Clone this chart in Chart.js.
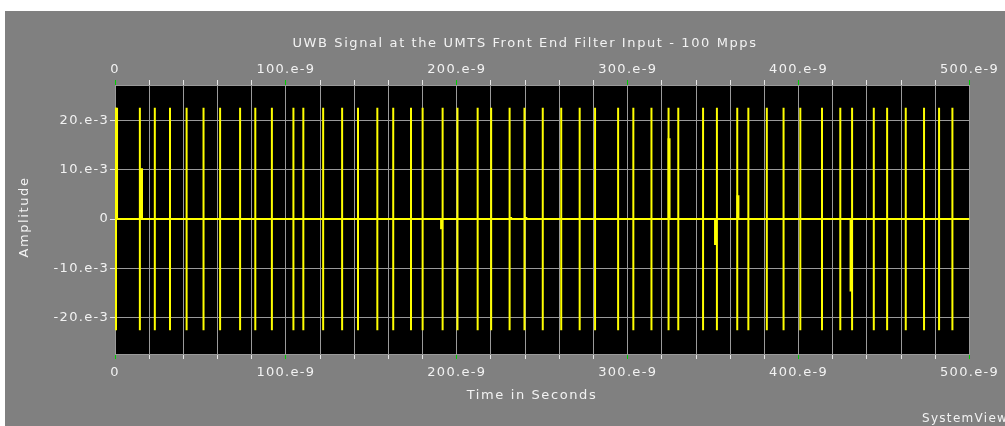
<!DOCTYPE html>
<html><head><meta charset="utf-8">
<script src="https://cdn.jsdelivr.net/npm/chart.js@4/dist/chart.umd.min.js"></script>
<style>
html,body{margin:0;padding:0;background:#fff;overflow:hidden;}
#wrap{position:absolute;left:5px;top:11px;width:1000px;height:415px;background:#808080;}
canvas{display:block;}
</style></head><body>
<div id="wrap"><canvas id="c" width="1000" height="415"></canvas></div>
<script>
// ---- text ----
const chartTitle = 'UWB Signal at the UMTS Front End Filter Input - 100 Mpps';
const xAxisTitle = 'Time in Seconds';
const yAxisTitle = 'Amplitude';
const footerText = 'SystemView';

// ---- data (time in ns, amplitude in volts) ----
const pulseTimesNs = [0.6, 14.55, 23.3, 32.2, 41.9, 51.8, 61.5, 73.2, 82.1, 91.8,
  104.4, 110.2, 121.8, 132.9, 142.2, 153.5, 162.8, 173.2, 180.0, 191.7,
  200.4, 212.2, 220.1, 230.9, 239.6, 250.3, 261.1, 271.9, 280.9, 294.4,
  303.3, 313.9, 323.9, 329.6, 344.1, 352.2, 364.1, 370.6, 381.4, 391.2,
  401.0, 413.7, 424.4, 431.3, 444.0, 451.8, 462.7, 473.4, 482.2, 490.0];
const pulsePeak = 22.6e-3;
const spikeTimesNs = [0.9, 15.5, 191.1, 231.5, 240.4, 324.2, 351.4, 364.5, 430.7];
const spikeValues = [22.6e-3, 10.3e-3, -2.1e-3, 0.4e-3, 0.4e-3, 16.4e-3, -5.3e-3, 4.8e-3, -14.7e-3];

// ---- axes ----
const xMinNs = 0, xMaxNs = 500;
const yMin = -27.4e-3, yMax = 27.2e-3;
const xTickNs = [0,20,40,60,80,100,120,140,160,180,200,220,240,260,280,300,320,340,360,380,400,420,440,460,480,500];
const xTickLabels = ['0','','','','','100.e-9','','','','','200.e-9','','','','','300.e-9','','','','','400.e-9','','','','','500.e-9'];
const yTickValues = [-20e-3, -10e-3, 0, 10e-3, 20e-3];
const yTickLabels = ['-20.e-3', '-10.e-3', '0', '10.e-3', '20.e-3'];

// ---- build series ----
const signal = [{x: xMinNs * 1e-9, y: 0}];
pulseTimesNs.forEach(t => {
  const x = t * 1e-9;
  signal.push({x, y: 0}, {x, y: pulsePeak}, {x, y: -pulsePeak}, {x, y: 0});
});
signal.push({x: xMaxNs * 1e-9, y: 0});
const spikes = [];
spikeTimesNs.forEach((t, i) => {
  const x = t * 1e-9;
  spikes.push({x, y: 0}, {x, y: spikeValues[i]}, {x, y: null});
});

const TXT = '#f2f2f2';
const GRID = '#9a9a9a';
const TICK = '#e8e8e8';
const MAJOR = '#00d000';
const FONT = 'DejaVu Sans';
const TL = 5;
const isMajorNs = ns => Math.round(ns) % 100 === 0;

const crisp = v => Math.round(v - 0.5) + 0.5;

const decor = {
  id: 'decor',
  beforeLayout(chart) { chart.ctx.letterSpacing = '1.3px'; },
  beforeDraw(chart) {
    const {ctx, chartArea: a} = chart;
    ctx.letterSpacing = '1.3px';
    ctx.save();
    ctx.fillStyle = '#000';
    ctx.fillRect(a.left, a.top, a.right - a.left, a.bottom - a.top);
    ctx.restore();
  },
  beforeDatasetsDraw(chart) {
    const {ctx, chartArea: a, scales} = chart;
    const sx = scales.x, sy = scales.y;
    ctx.save();
    ctx.lineWidth = 1;
    // vertical grid lines + tick marks (top and bottom)
    xTickNs.forEach(ns => {
      const px = crisp(sx.getPixelForValue(ns * 1e-9));
      ctx.strokeStyle = GRID;
      ctx.beginPath(); ctx.moveTo(px, a.top); ctx.lineTo(px, a.bottom); ctx.stroke();
      ctx.strokeStyle = isMajorNs(ns) ? MAJOR : TICK;
      ctx.beginPath(); ctx.moveTo(px, a.top - TL); ctx.lineTo(px, a.top); ctx.stroke();
      ctx.beginPath(); ctx.moveTo(px, a.bottom); ctx.lineTo(px, a.bottom + TL); ctx.stroke();
    });
    // horizontal grid lines + tick marks (left)
    yTickValues.forEach(v => {
      const py = crisp(sy.getPixelForValue(v));
      ctx.strokeStyle = GRID;
      ctx.beginPath(); ctx.moveTo(a.left, py); ctx.lineTo(a.right, py); ctx.stroke();
      ctx.strokeStyle = TICK;
      ctx.beginPath(); ctx.moveTo(a.left - TL, py); ctx.lineTo(a.left, py); ctx.stroke();
    });
    // frame
    ctx.strokeStyle = GRID;
    ctx.strokeRect(crisp(a.left), crisp(a.top), Math.round(a.right - a.left), Math.round(a.bottom - a.top));
    ctx.restore();
  },
  afterDraw(chart) {
    const ctx = chart.ctx;
    ctx.save();
    ctx.fillStyle = TXT;
    ctx.textBaseline = 'middle';
    ctx.textAlign = 'center';
    ctx.font = '13px "' + FONT + '"';
    ctx.letterSpacing = '1.6px';
    ctx.fillText(chartTitle, 520, 33);
    ctx.fillText(xAxisTitle, 527, 385);
    ctx.save();
    ctx.translate(20, 206);
    ctx.rotate(-Math.PI / 2);
    ctx.fillText(yAxisTitle, 0, 0);
    ctx.restore();
    ctx.textAlign = 'left';
    ctx.font = '12px "' + FONT + '"';
    ctx.letterSpacing = '1.3px';
    ctx.fillText(footerText, 917, 408);
    ctx.restore();
  }
};

const xTicks = s => { s.ticks = xTickNs.map(v => ({value: v * 1e-9})); };
const xTickCb = (v, i) => xTickLabels[i];
const hidden = 'rgba(0,0,0,0)';

new Chart(document.getElementById('c'), {
  type: 'line',
  data: {
    datasets: [
      {data: signal, borderColor: '#ffff00', borderWidth: 2, pointRadius: 0, tension: 0, fill: false},
      {data: spikes, borderColor: '#ffff00', borderWidth: 3, pointRadius: 0, tension: 0, fill: false, spanGaps: false}
    ]
  },
  options: {
    responsive: false,
    animation: false,
    events: [],
    layout: {padding: {left: 0, right: 31, top: 44, bottom: 42}},
    plugins: {legend: {display: false}, tooltip: {enabled: false}, title: {display: false}},
    scales: {
      x: {
        type: 'linear', position: 'bottom', min: xMinNs * 1e-9, max: xMaxNs * 1e-9,
        afterBuildTicks: xTicks,
        afterFit: s => { s.height = 30; },
        ticks: {callback: xTickCb, autoSkip: false, maxRotation: 0, minRotation: 0, maxTicksLimit: 100,
          color: TXT, font: {family: FONT, size: 13}, padding: 6},
        grid: {drawOnChartArea: false, drawTicks: true, tickLength: TL, tickColor: hidden, color: hidden},
        border: {display: false}
      },
      x2: {
        type: 'linear', position: 'top', min: xMinNs * 1e-9, max: xMaxNs * 1e-9,
        afterBuildTicks: xTicks,
        afterFit: s => { s.height = 30; },
        ticks: {callback: xTickCb, autoSkip: false, maxRotation: 0, minRotation: 0, maxTicksLimit: 100,
          color: TXT, font: {family: FONT, size: 13}, padding: 3},
        grid: {drawOnChartArea: false, drawTicks: true, tickLength: TL, tickColor: hidden, color: hidden},
        border: {display: false}
      },
      y: {
        type: 'linear', position: 'left', min: yMin, max: yMax,
        afterBuildTicks: s => { s.ticks = yTickValues.map(v => ({value: v})); },
        afterFit: s => { s.width = 110; },
        ticks: {callback: (v, i) => yTickLabels[i], autoSkip: false, maxTicksLimit: 100,
          color: TXT, font: {family: FONT, size: 13}, padding: 1},
        grid: {drawOnChartArea: false, drawTicks: true, tickLength: TL, tickColor: hidden, color: hidden},
        border: {display: false}
      }
    }
  },
  plugins: [decor]
});
</script>
</body></html>
